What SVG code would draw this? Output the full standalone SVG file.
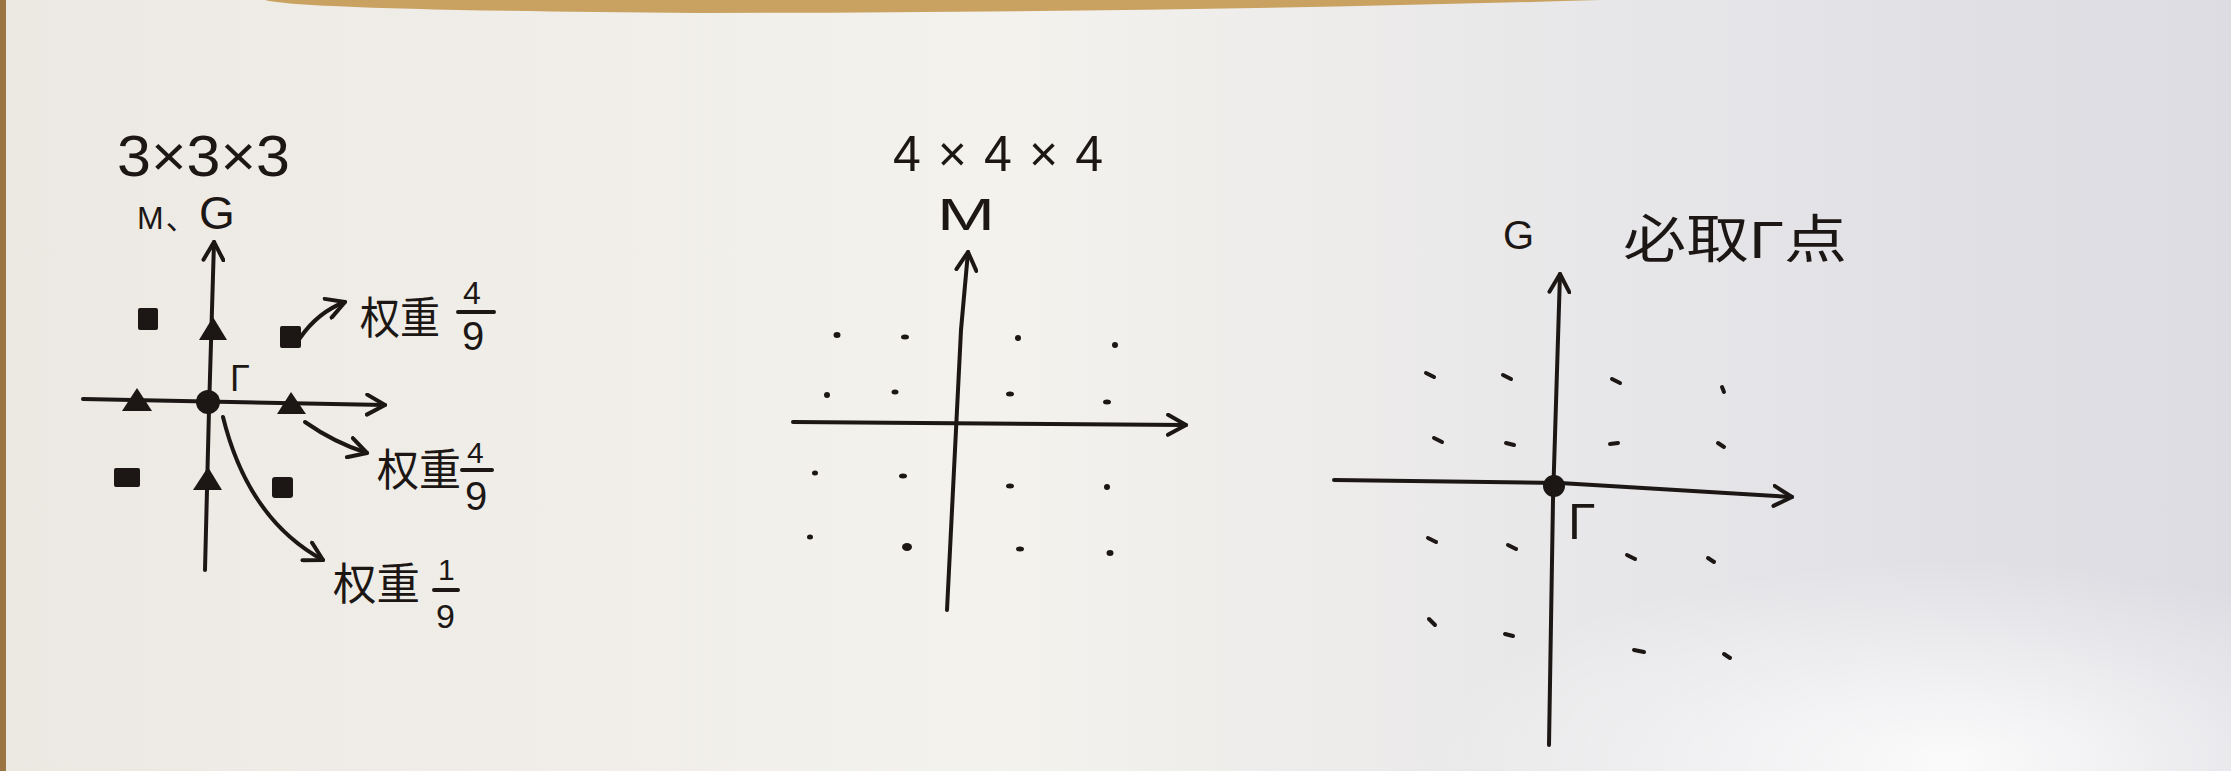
<svg xmlns="http://www.w3.org/2000/svg" width="2231" height="771" viewBox="0 0 2231 771">
<style>
.ink{stroke:#1c1714;fill:none;stroke-width:4;stroke-linecap:round;stroke-linejoin:round}
.fill{fill:#1c1714}
.t{fill:#1c1714;font-family:"Liberation Sans","Noto Sans CJK SC",sans-serif}
.dot{fill:#1c1714}
.dash{stroke:#1c1714;stroke-width:4;stroke-linecap:round}
</style>
<defs>
<linearGradient id="paper" x1="0" y1="0" x2="1" y2="0">
<stop offset="0" stop-color="#ece9e3"/>
<stop offset="0.45" stop-color="#f4f2ed"/>
<stop offset="0.75" stop-color="#e6e5e8"/>
<stop offset="1" stop-color="#dcdce2"/>
</linearGradient>
<radialGradient id="glow" cx="0.5" cy="0.5" r="0.5">
<stop offset="0" stop-color="#ffffff" stop-opacity="0.85"/>
<stop offset="1" stop-color="#ffffff" stop-opacity="0"/>
</radialGradient>
<marker id="arr" viewBox="0 0 12 12" refX="10" refY="6" markerWidth="6" markerHeight="6" orient="auto" markerUnits="strokeWidth">
<path d="M1,1 L10,6 L1,11" fill="none" stroke="#1c1714" stroke-width="2" stroke-linecap="round" stroke-linejoin="round"/>
</marker>
</defs>
<g id="background">
<rect x="0" y="0" width="2231" height="771" fill="url(#paper)"/>
<ellipse cx="1950" cy="760" rx="520" ry="200" fill="url(#glow)"/>
<path d="M265,0 Q300,10 700,13 Q1200,12 1600,0 Z" fill="#c9a160"/>
<rect x="0" y="0" width="6" height="771" fill="#9a7442"/>
</g>

<g id="panel-3x3x3">
<text class="t" x="117" y="176" font-size="58" textLength="173" lengthAdjust="spacingAndGlyphs">3×3×3</text>
<text class="t" x="137" y="229"><tspan font-size="32">M</tspan><tspan font-size="30" dx="2">、</tspan><tspan font-size="46" x="199">G</tspan></text>
<g id="g1-origin"><circle cx="208" cy="402" r="12" class="fill"/></g>
<text id="g1-gamma" class="t" x="230" y="391" font-size="36">Γ</text>
<g id="g1-squares">
<rect x="138" y="308" width="20" height="22" rx="2" class="fill"/>
<rect x="280" y="326" width="21" height="22" rx="2" class="fill"/>
<rect x="114" y="468" width="26" height="19" rx="2" class="fill"/>
<rect x="272" y="477" width="21" height="21" rx="3" class="fill"/>
</g>
<g id="g1-triangles">
<path d="M213,317 L227,340 L199,340 Z" class="fill"/>
<path d="M137,388 L152,411 L122,411 Z" class="fill"/>
<path d="M291,392 L306,414 L277,414 Z" class="fill"/>
<path d="M208,467 L222,490 L193,490 Z" class="fill"/>
</g>
<g id="g1-label-a">
<text class="t" x="360" y="334" font-size="44" textLength="80" lengthAdjust="spacingAndGlyphs">权重</text>
<text class="t" x="463" y="304" font-size="32">4</text>
<line x1="458" y1="312" x2="494" y2="312" class="ink" stroke-width="3"/>
<text class="t" x="462" y="350" font-size="40">9</text>
</g>
<g id="g1-label-b">
<text class="t" x="377" y="486" font-size="44" textLength="84" lengthAdjust="spacingAndGlyphs">权重</text>
<text class="t" x="467" y="463" font-size="30">4</text>
<line x1="462" y1="470" x2="492" y2="470" class="ink" stroke-width="3"/>
<text class="t" x="465" y="510" font-size="40">9</text>
</g>
<g id="g1-label-c">
<text class="t" x="333" y="600" font-size="44" textLength="87" lengthAdjust="spacingAndGlyphs">权重</text>
<text class="t" x="438" y="580" font-size="30">1</text>
<line x1="434" y1="590" x2="458" y2="590" class="ink" stroke-width="3"/>
<text class="t" x="436" y="628" font-size="34">9</text>
</g>
</g>

<g id="panel-4x4x4">
<text class="t" x="893" y="171" font-size="50" textLength="210" lengthAdjust="spacing">4×4×4</text>
<text class="t" x="937" y="230" font-size="44" textLength="58" lengthAdjust="spacingAndGlyphs">M</text>
<g id="g2-points">
<ellipse cx="837" cy="335" rx="3.5" ry="3" class="dot"/>
<ellipse cx="905" cy="337" rx="4" ry="2.5" class="dot"/>
<ellipse cx="1018" cy="338" rx="3" ry="3" class="dot"/>
<ellipse cx="1115" cy="345" rx="3" ry="3" class="dot"/>
<ellipse cx="827" cy="395" rx="3" ry="3" class="dot"/>
<ellipse cx="895" cy="392" rx="3.5" ry="2.5" class="dot"/>
<ellipse cx="1010" cy="394" rx="4" ry="2.5" class="dot"/>
<ellipse cx="1107" cy="402" rx="4" ry="2.5" class="dot"/>
<ellipse cx="815" cy="473" rx="3" ry="2.5" class="dot"/>
<ellipse cx="903" cy="476" rx="4" ry="2.5" class="dot"/>
<ellipse cx="1010" cy="486" rx="4" ry="2.5" class="dot"/>
<ellipse cx="1107" cy="487" rx="3" ry="3" class="dot"/>
<ellipse cx="810" cy="537" rx="3" ry="2.5" class="dot"/>
<ellipse cx="907" cy="547" rx="5" ry="4" class="dot"/>
<ellipse cx="1020" cy="549" rx="4" ry="2.5" class="dot"/>
<ellipse cx="1110" cy="553" rx="3.5" ry="3" class="dot"/>
</g>
</g>

<g id="panel-gamma">
<text class="t" x="1503" y="249" font-size="40">G</text>
<text class="t" x="1623" y="258" font-size="52" textLength="224" lengthAdjust="spacingAndGlyphs">必取Γ点</text>
<g id="g3-origin"><circle cx="1554" cy="486" r="11" class="fill"/></g>
<text id="g3-gamma" class="t" x="1568" y="539" font-size="50">Γ</text>
<g id="g3-points">
<line x1="1426" y1="373" x2="1434" y2="377" class="dash"/>
<line x1="1503" y1="375" x2="1511" y2="379" class="dash"/>
<line x1="1612" y1="379" x2="1620" y2="383" class="dash"/>
<line x1="1722" y1="387" x2="1724" y2="392" class="dash"/>
<line x1="1434" y1="438" x2="1442" y2="442" class="dash"/>
<line x1="1506" y1="443" x2="1514" y2="445" class="dash"/>
<line x1="1610" y1="444" x2="1618" y2="443" class="dash"/>
<line x1="1718" y1="443" x2="1724" y2="447" class="dash"/>
<line x1="1428" y1="538" x2="1436" y2="542" class="dash"/>
<line x1="1508" y1="545" x2="1516" y2="549" class="dash"/>
<line x1="1627" y1="555" x2="1635" y2="559" class="dash"/>
<line x1="1708" y1="558" x2="1714" y2="562" class="dash"/>
<line x1="1429" y1="619" x2="1435" y2="625" class="dash"/>
<line x1="1505" y1="634" x2="1513" y2="636" class="dash"/>
<line x1="1634" y1="650" x2="1644" y2="652" class="dash"/>
<line x1="1724" y1="654" x2="1730" y2="658" class="dash"/>
</g>
</g>

<g id="connectors">
<path d="M205,570 L209,410 L214,242" class="ink" marker-end="url(#arr)"/>
<path d="M83,399 L385,405" class="ink" marker-end="url(#arr)"/>
<path d="M300,338 Q318,312 345,302" class="ink" stroke-width="3.5" marker-end="url(#arr)"/>
<path d="M305,422 Q335,443 367,453" class="ink" stroke-width="3.5" marker-end="url(#arr)"/>
<path d="M223,417 C238,478 268,530 323,560" class="ink" stroke-width="3.5" marker-end="url(#arr)"/>
<path d="M947,610 L961,330 L968,252" class="ink" marker-end="url(#arr)"/>
<path d="M793,422 L1186,425" class="ink" marker-end="url(#arr)"/>
<path d="M1549,745 L1553,500 L1560,274" class="ink" marker-end="url(#arr)"/>
<path d="M1334,480 L1560,483 L1792,497" class="ink" marker-end="url(#arr)"/>
</g>
</svg>
